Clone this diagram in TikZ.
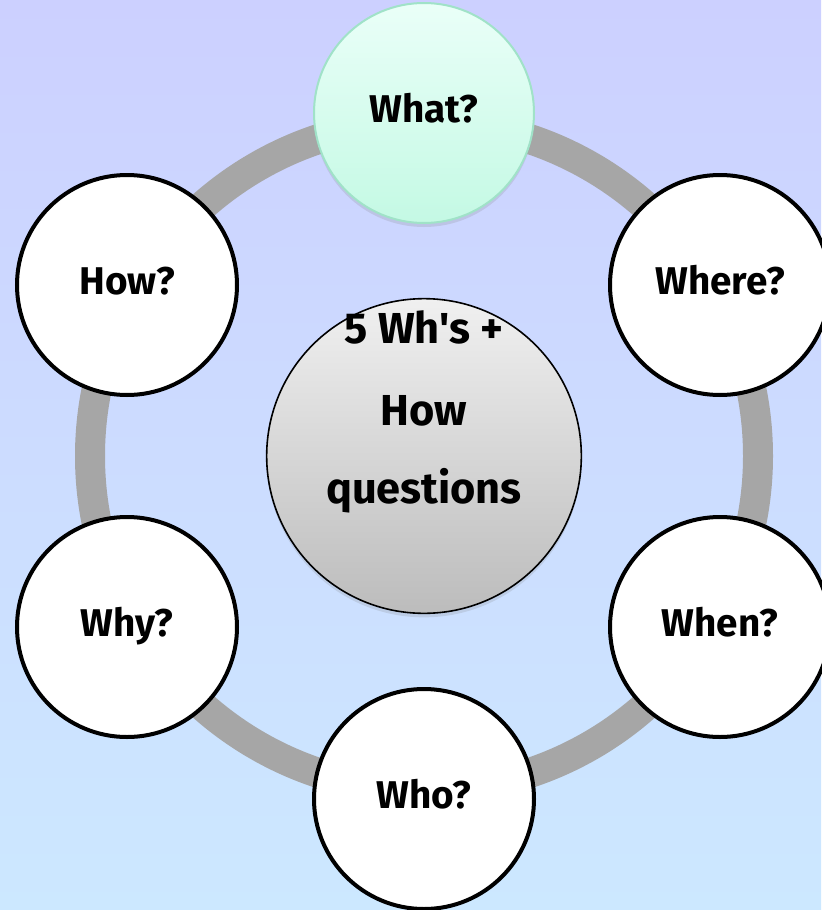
\documentclass[tikz,border=0pt]{standalone}
\usepackage{fontspec}
\newfontfamily\qfont{Fira Sans}
\usetikzlibrary{shadows}
\definecolor{bgtop}{RGB}{204,208,255}
\definecolor{bgbot}{RGB}{204,232,255}
\definecolor{ringgray}{RGB}{166,166,166}
\definecolor{mintTop}{RGB}{234,255,248}
\definecolor{mintBot}{RGB}{196,249,228}
\definecolor{mintEdge}{RGB}{160,226,200}
\definecolor{hubTop}{RGB}{240,240,240}
\definecolor{hubBot}{RGB}{188,188,188}
\begin{document}
\begin{tikzpicture}[x=0.75pt,y=-0.75pt,
  qcircle/.style={circle, draw=black, line width=3pt, fill=white, minimum size=165pt, inner sep=0pt,
    font=\qfont\fontsize{29}{34}\selectfont\bfseries},
  whatcircle/.style={qcircle, draw=mintEdge, line width=1.5pt, top color=mintTop, bottom color=mintBot,
    drop shadow={opacity=0.2, shadow xshift=0pt, shadow yshift=-3pt}},
  hubcircle/.style={circle, draw=black, line width=1.2pt, top color=hubTop, bottom color=hubBot,
    minimum size=236pt, inner sep=0pt,
    drop shadow={opacity=0.2, shadow xshift=0pt, shadow yshift=-3pt}},
  hubtext/.style={anchor=base, inner sep=0pt, font=\qfont\fontsize{32.5}{38}\selectfont\bfseries},
  ring/.style={draw=ringgray, line width=22.5pt}
]
\useasboundingbox (0,0) rectangle (821,910);
\shade[top color=bgtop, bottom color=bgbot] (0,0) rectangle (821,910);
\coordinate (c) at (424,456);
\draw[ring] (c) circle[radius=334];
\node[hubcircle] (hub) at (c) {};
\node[hubtext] (l1) at (424,343) {5 Wh's +};
\node[hubtext] (l2) at (424,425) {How};
\node[hubtext] (l3) at (424,503) {questions};
\node[whatcircle] (what) at (424,113) {\raisebox{7pt}{What?}};
\node[qcircle] (where) at (720,285) {\raisebox{7pt}{Where?}};
\node[qcircle] (when) at (720,627) {\raisebox{7pt}{When?}};
\node[qcircle] (who) at (424,799) {\raisebox{7pt}{Who?}};
\node[qcircle] (why) at (127,627) {\raisebox{7pt}{Why?}};
\node[qcircle] (how) at (127,285) {\raisebox{7pt}{How?}};
\end{tikzpicture}
\end{document}
